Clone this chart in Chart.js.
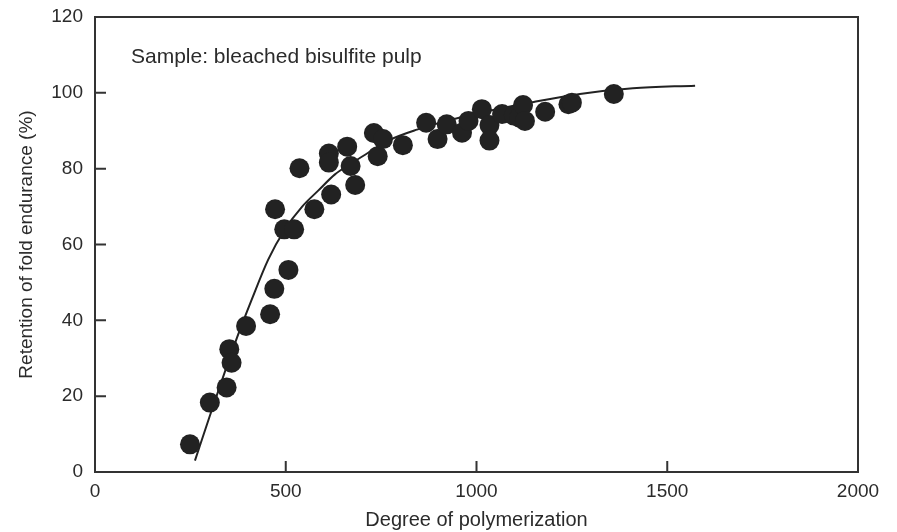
<!DOCTYPE html>
<html>
<head>
<meta charset="utf-8">
<script src="https://cdn.jsdelivr.net/npm/chart.js@4"></script>
<style>
  body { margin: 0; background: #fff; }
  #wrap { width: 897px; height: 532px; position: relative; }
</style>
</head>
<body>
<div id="wrap"><canvas id="myChart"></canvas></div>
<script>
// measured points (degree of polymerization, retention %)
let dpValues = [249, 301, 345, 352, 358, 396, 459, 470, 472, 496, 507, 522, 536, 575, 613, 613, 619, 661, 670, 682,
    731, 741, 755, 807, 868, 898, 922, 962, 979, 1014, 1034, 1034, 1067, 1098, 1112, 1122, 1127, 1180, 1241, 1250, 1360];
let retention = [7.3, 18.3, 22.3, 32.4, 28.8, 38.5, 41.6, 48.3, 69.3, 64.0, 53.3, 64.0, 80.1, 69.3, 84.0, 81.6, 73.2, 85.8, 80.7, 75.7,
    89.4, 83.3, 87.8, 86.2, 92.1, 87.8, 91.7, 89.5, 92.6, 95.7, 91.5, 87.4, 94.4, 94.0, 93.5, 96.8, 92.6, 95.0, 97.0, 97.4, 99.7];

// fitted curve
let curveDp = [262, 300, 367, 411, 454, 498, 543, 585, 629, 674, 716, 773, 844, 930, 1050, 1150, 1271, 1410, 1573];
let curveRet = [3, 14.5, 34, 45.5, 56, 64, 70, 74.2, 78.5, 81.5, 84.2, 87.6, 90.3, 92.8, 95.6, 97.6, 99.7, 101.2, 101.9];

let xTicks = [0, 500, 1000, 1500, 2000];
let yTicks = [0, 20, 40, 60, 80, 100, 120];

let sampleNote = 'Sample: bleached bisulfite pulp';

let fontFamily = '"Liberation Sans", Arial, Helvetica, sans-serif';
let ink = '#2b2b2b';

// box around the plot + inward tick marks + note
let framePlugin = {
    id: 'frame',
    afterDraw(chart) {
        let ctx = chart.ctx;
        let a = chart.chartArea;
        let xs = chart.scales.x;
        let ys = chart.scales.y;
        ctx.save();
        ctx.strokeStyle = '#333';
        ctx.lineWidth = 2;
        ctx.strokeRect(a.left, a.top, a.right - a.left, a.bottom - a.top);
        ctx.beginPath();
        xTicks.slice(1, -1).forEach((v) => {
            let px = xs.getPixelForValue(v);
            ctx.moveTo(px, a.bottom);
            ctx.lineTo(px, a.bottom - 11);
        });
        yTicks.slice(1, -1).forEach((v) => {
            let py = ys.getPixelForValue(v);
            ctx.moveTo(a.left, py);
            ctx.lineTo(a.left + 11, py);
        });
        ctx.stroke();
        ctx.fillStyle = ink;
        ctx.font = '21px ' + fontFamily;
        ctx.textBaseline = 'middle';
        ctx.fillText(sampleNote, a.left + 36, a.top + 40);
        ctx.restore();
    }
};

function drawChart() {
    let points = dpValues.map((v, i) => ({x: v, y: retention[i]}));
    let curve = curveDp.map((v, i) => ({x: v, y: curveRet[i]}));

    let ctx = document.getElementById('myChart').getContext('2d');

    new Chart(ctx, {
        type: 'scatter',
        data: {
            datasets: [{
                data: points,
                pointRadius: 10,
                pointHoverRadius: 10,
                backgroundColor: '#222',
                borderWidth: 0,
                order: 1
            }, {
                data: curve,
                showLine: true,
                pointRadius: 0,
                borderColor: '#222',
                borderWidth: 2,
                cubicInterpolationMode: 'monotone',
                order: 2
            }]
        },
        options: {
            responsive: true,
            maintainAspectRatio: false,
            animation: false,
            layout: {padding: {top: 17, right: 39, left: 0, bottom: 0}},
            plugins: {legend: {display: false}, tooltip: {enabled: false}},
            scales: {
                x: {
                    type: 'linear',
                    min: 0,
                    max: 2000,
                    afterFit: (s) => { s.height = 60; s.paddingLeft = 0; s.paddingRight = 0; },
                    afterBuildTicks: (s) => { s.ticks = xTicks.map((v) => ({value: v})); },
                    grid: {display: false, drawTicks: false},
                    border: {display: false},
                    ticks: {
                        color: ink,
                        padding: 8,
                        maxRotation: 0,
                        font: {family: fontFamily, size: 19},
                        callback: (v) => String(v)
                    },
                    title: {
                        display: true,
                        text: 'Degree of polymerization',
                        color: ink,
                        padding: {top: 0, bottom: 0},
                        font: {family: fontFamily, size: 20}
                    }
                },
                y: {
                    type: 'linear',
                    min: 0,
                    max: 120,
                    afterFit: (s) => { s.width = 95; s.paddingTop = 0; s.paddingBottom = 0; },
                    afterBuildTicks: (s) => { s.ticks = yTicks.map((v) => ({value: v})); },
                    grid: {display: false, drawTicks: false},
                    border: {display: false},
                    ticks: {
                        color: ink,
                        padding: 12,
                        font: {family: fontFamily, size: 19},
                        callback: (v) => String(v)
                    },
                    title: {
                        display: true,
                        text: 'Retention of fold endurance (%)',
                        color: ink,
                        padding: {top: 15, bottom: 0},
                        font: {family: fontFamily, size: 19}
                    }
                }
            }
        },
        plugins: [framePlugin]
    });
}

drawChart();
</script>
</body>
</html>
